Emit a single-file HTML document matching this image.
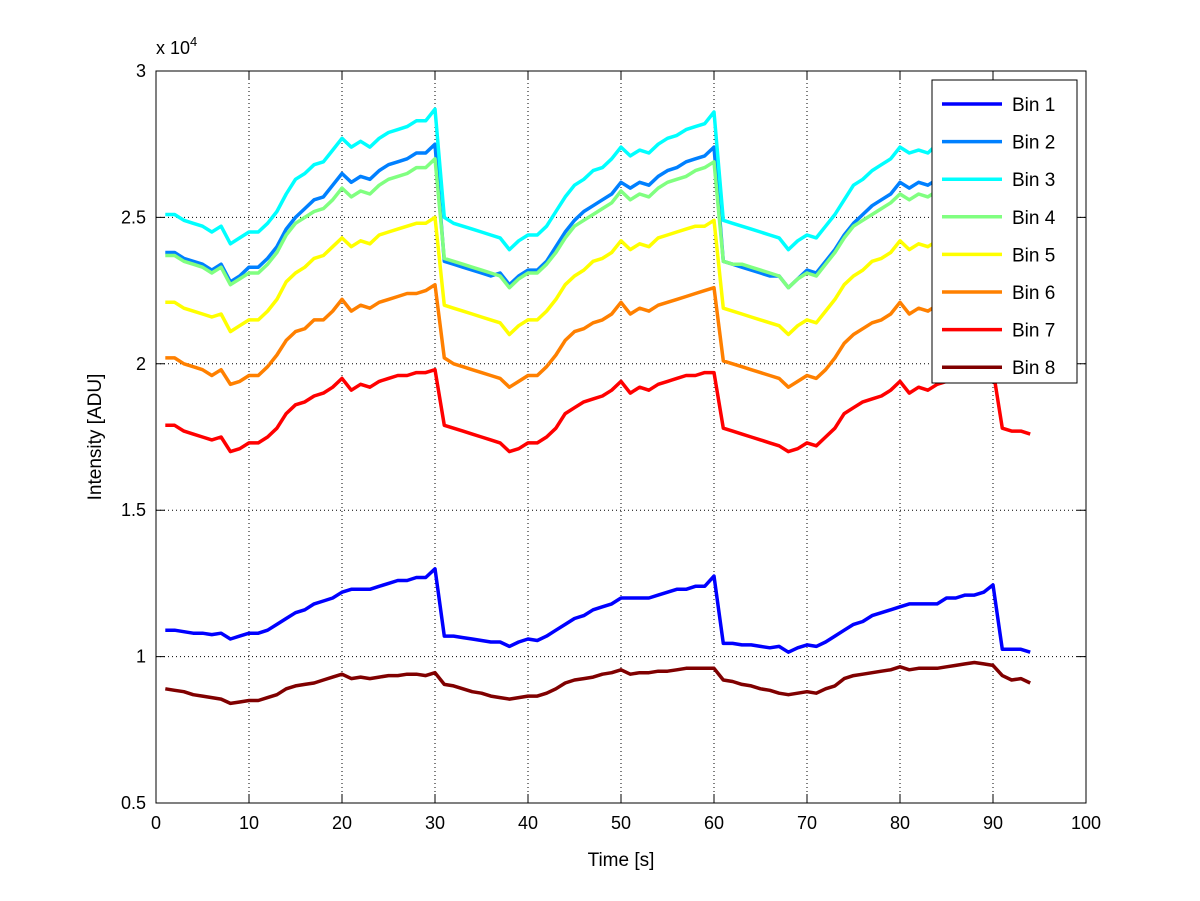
<!DOCTYPE html>
<html><head><meta charset="utf-8"><style>
body{margin:0;background:#fff}
svg{display:block;font-family:"Liberation Sans",sans-serif}
</style></head><body>
<svg id="chart" width="1200" height="901">
<rect width="1200" height="901" fill="#fff"/>
<g id="grid"></g>
<g id="series"></g>
<g id="axes"></g>
<g id="legend"></g>
</svg>
<script>
const xTicks=[0,10,20,30,40,50,60,70,80,90,100];
const yTicks=[0.5,1,1.5,2,2.5,3];
const yTickLabels=["0.5","1","1.5","2","2.5","3"];
const seriesNames=["Bin 1","Bin 2","Bin 3","Bin 4","Bin 5","Bin 6","Bin 7","Bin 8"];
const colors=["#0000ff","#0080ff","#00ffff","#80ff80","#ffff00","#ff8000","#ff0000","#800000"];
const bin1=[1.09,1.09,1.085,1.08,1.08,1.075,1.08,1.06,1.07,1.08,1.08,1.09,1.11,1.13,1.15,1.16,1.18,1.19,1.20,1.22,1.23,1.23,1.23,1.24,1.25,1.26,1.26,1.27,1.27,1.30,
1.07,1.07,1.065,1.06,1.055,1.05,1.05,1.035,1.05,1.06,1.055,1.07,1.09,1.11,1.13,1.14,1.16,1.17,1.18,1.20,1.20,1.20,1.20,1.21,1.22,1.23,1.23,1.24,1.24,1.275,
1.045,1.045,1.04,1.04,1.035,1.03,1.035,1.015,1.03,1.04,1.035,1.05,1.07,1.09,1.11,1.12,1.14,1.15,1.16,1.17,1.18,1.18,1.18,1.18,1.20,1.20,1.21,1.21,1.22,1.245,1.025,1.025,1.025,1.015];
const bin2=[2.38,2.38,2.36,2.35,2.34,2.32,2.34,2.28,2.30,2.33,2.33,2.36,2.40,2.46,2.50,2.53,2.56,2.57,2.61,2.65,2.62,2.64,2.63,2.66,2.68,2.69,2.70,2.72,2.72,2.75,
2.35,2.34,2.33,2.32,2.31,2.30,2.31,2.27,2.30,2.32,2.32,2.35,2.40,2.45,2.49,2.52,2.54,2.56,2.58,2.62,2.60,2.62,2.61,2.64,2.66,2.67,2.69,2.70,2.71,2.74,
2.35,2.34,2.33,2.32,2.31,2.30,2.30,2.26,2.29,2.32,2.31,2.35,2.39,2.44,2.48,2.51,2.54,2.56,2.58,2.62,2.60,2.62,2.61,2.63,2.65,2.66,2.68,2.69,2.70,2.73,2.37,2.36,2.35,2.34];
const bin3=[2.51,2.51,2.49,2.48,2.47,2.45,2.47,2.41,2.43,2.45,2.45,2.48,2.52,2.58,2.63,2.65,2.68,2.69,2.73,2.77,2.74,2.76,2.74,2.77,2.79,2.80,2.81,2.83,2.83,2.87,
2.50,2.48,2.47,2.46,2.45,2.44,2.43,2.39,2.42,2.44,2.44,2.47,2.52,2.57,2.61,2.63,2.66,2.67,2.70,2.74,2.71,2.73,2.72,2.75,2.77,2.78,2.80,2.81,2.82,2.86,
2.49,2.48,2.47,2.46,2.45,2.44,2.43,2.39,2.42,2.44,2.43,2.47,2.51,2.56,2.61,2.63,2.66,2.68,2.70,2.74,2.72,2.73,2.72,2.75,2.77,2.78,2.80,2.81,2.82,2.85,2.49,2.48,2.47,2.46];
const bin4=[2.37,2.37,2.35,2.34,2.33,2.31,2.33,2.27,2.29,2.31,2.31,2.34,2.38,2.44,2.48,2.50,2.52,2.53,2.56,2.60,2.57,2.59,2.58,2.61,2.63,2.64,2.65,2.67,2.67,2.70,
2.36,2.35,2.34,2.33,2.32,2.31,2.30,2.26,2.29,2.31,2.31,2.34,2.38,2.43,2.47,2.49,2.51,2.53,2.55,2.59,2.56,2.58,2.57,2.60,2.62,2.63,2.64,2.66,2.67,2.69,
2.35,2.34,2.34,2.33,2.32,2.31,2.30,2.26,2.29,2.31,2.30,2.34,2.38,2.43,2.47,2.49,2.51,2.53,2.55,2.58,2.56,2.58,2.57,2.59,2.61,2.62,2.64,2.65,2.66,2.68,2.36,2.35,2.34,2.33];
const bin5=[2.21,2.21,2.19,2.18,2.17,2.16,2.17,2.11,2.13,2.15,2.15,2.18,2.22,2.28,2.31,2.33,2.36,2.37,2.40,2.43,2.40,2.42,2.41,2.44,2.45,2.46,2.47,2.48,2.48,2.50,
2.20,2.19,2.18,2.17,2.16,2.15,2.14,2.10,2.13,2.15,2.15,2.18,2.22,2.27,2.30,2.32,2.35,2.36,2.38,2.42,2.39,2.41,2.40,2.43,2.44,2.45,2.46,2.47,2.47,2.49,
2.19,2.18,2.17,2.16,2.15,2.14,2.13,2.10,2.13,2.15,2.14,2.18,2.22,2.27,2.30,2.32,2.35,2.36,2.38,2.42,2.39,2.41,2.40,2.42,2.43,2.44,2.45,2.46,2.47,2.48,2.20,2.19,2.18,2.17];
const bin6=[2.02,2.02,2.00,1.99,1.98,1.96,1.98,1.93,1.94,1.96,1.96,1.99,2.03,2.08,2.11,2.12,2.15,2.15,2.18,2.22,2.18,2.20,2.19,2.21,2.22,2.23,2.24,2.24,2.25,2.27,
2.02,2.00,1.99,1.98,1.97,1.96,1.95,1.92,1.94,1.96,1.96,1.99,2.03,2.08,2.11,2.12,2.14,2.15,2.17,2.21,2.17,2.19,2.18,2.20,2.21,2.22,2.23,2.24,2.25,2.26,
2.01,2.00,1.99,1.98,1.97,1.96,1.95,1.92,1.94,1.96,1.95,1.98,2.02,2.07,2.10,2.12,2.14,2.15,2.17,2.21,2.17,2.19,2.18,2.20,2.21,2.22,2.23,2.24,2.25,2.26,2.02,2.01,2.00,1.99];
const bin7=[1.79,1.79,1.77,1.76,1.75,1.74,1.75,1.70,1.71,1.73,1.73,1.75,1.78,1.83,1.86,1.87,1.89,1.90,1.92,1.95,1.91,1.93,1.92,1.94,1.95,1.96,1.96,1.97,1.97,1.98,
1.79,1.78,1.77,1.76,1.75,1.74,1.73,1.70,1.71,1.73,1.73,1.75,1.78,1.83,1.85,1.87,1.88,1.89,1.91,1.94,1.90,1.92,1.91,1.93,1.94,1.95,1.96,1.96,1.97,1.97,
1.78,1.77,1.76,1.75,1.74,1.73,1.72,1.70,1.71,1.73,1.72,1.75,1.78,1.83,1.85,1.87,1.88,1.89,1.91,1.94,1.90,1.92,1.91,1.93,1.94,1.95,1.96,1.96,1.97,1.98,1.78,1.77,1.77,1.76];
const bin8=[0.89,0.885,0.88,0.87,0.865,0.86,0.855,0.84,0.845,0.85,0.85,0.86,0.87,0.89,0.90,0.905,0.91,0.92,0.93,0.94,0.925,0.93,0.925,0.93,0.935,0.935,0.94,0.94,0.935,0.945,
0.905,0.90,0.89,0.88,0.875,0.865,0.86,0.855,0.86,0.865,0.865,0.875,0.89,0.91,0.92,0.925,0.93,0.94,0.945,0.955,0.94,0.945,0.945,0.95,0.95,0.955,0.96,0.96,0.96,0.96,
0.92,0.915,0.905,0.90,0.89,0.885,0.875,0.87,0.875,0.88,0.875,0.89,0.90,0.925,0.935,0.94,0.945,0.95,0.955,0.965,0.955,0.96,0.96,0.96,0.965,0.97,0.975,0.98,0.975,0.97,0.935,0.92,0.925,0.91];
const allSeries=[bin1,bin2,bin3,bin4,bin5,bin6,bin7,bin8];

const L=156,R=1086,T=71,B=803;
const sx=v=>L+(v-0)/(100-0)*(R-L);
const sy=v=>B-(v-0.5)/(3-0.5)*(B-T);
const NS="http://www.w3.org/2000/svg";
function mk(tag,parent,attrs){const e=document.createElementNS(NS,tag);for(const k in attrs)e.setAttribute(k,attrs[k]);parent.appendChild(e);return e;}
const grid=document.getElementById('grid'),axes=document.getElementById('axes'),ser=document.getElementById('series'),leg=document.getElementById('legend');

xTicks.forEach((t,i)=>{
  const x=sx(t);
  if(i>0&&i<xTicks.length-1){const g=mk('line',grid,{x1:x,x2:x,y1:T,y2:B,stroke:'#000','stroke-width':1,'stroke-dasharray':'1 3'});
  
  }
  const tk=mk('path',axes,{d:`M${x},${B}v-9M${x},${T}v9`,stroke:'#000'});
  
  
  const lb=mk('text',axes,{x:x,y:B+26,'text-anchor':'middle','font-size':18});
  lb.textContent=t;
  
  
});
yTicks.forEach((t,i)=>{
  const y=sy(t);
  if(i>0&&i<yTicks.length-1){const g=mk('line',grid,{x1:L,x2:R,y1:y,y2:y,stroke:'#000','stroke-width':1,'stroke-dasharray':'1 3'});
  
  }
  const tk=mk('path',axes,{d:`M${L},${y}h9M${R},${y}h-9`,stroke:'#000'});
  
  
  const lb=mk('text',axes,{x:L-10,y:y+6,'text-anchor':'end','font-size':18});
  lb.textContent=yTickLabels[i];
  
  
});
const box=mk('rect',axes,{x:L,y:T,width:R-L,height:B-T,fill:'none',stroke:'#000'});


const mult=mk('text',axes,{x:156,y:54,'font-size':18});
mult.innerHTML='x 10<tspan dy="-8" font-size="13">4</tspan>';


const xt=mk('text',axes,{x:(L+R)/2,y:866,'text-anchor':'middle','font-size':19});
xt.textContent='Time [s]';


const yt=mk('text',axes,{x:0,y:0,'text-anchor':'middle','font-size':19,transform:`translate(101,${(T+B)/2}) rotate(-90)`});
yt.textContent='Intensity [ADU]';



allSeries.forEach((arr,si)=>{
  const d=arr.map((v,i)=>(i?'L':'M')+sx(i+1).toFixed(1)+','+sy(v).toFixed(1)).join('');
  const p=mk('path',ser,{d:d,fill:'none',stroke:colors[si],'stroke-width':3.5,'stroke-linejoin':'round'});
  
  
});

const lb=mk('rect',leg,{x:932,y:80,width:145,height:303,fill:'#fff',stroke:'#000'});


seriesNames.forEach((n,i)=>{
  const y=104+i*37.6;
  const ln=mk('line',leg,{x1:942,x2:1002,y1:y,y2:y,stroke:colors[i],'stroke-width':3.5});
  
  
  const t=mk('text',leg,{x:1012,y:y+7,'font-size':19});
  t.textContent=n;
  
  
});
</script>
</body></html>
